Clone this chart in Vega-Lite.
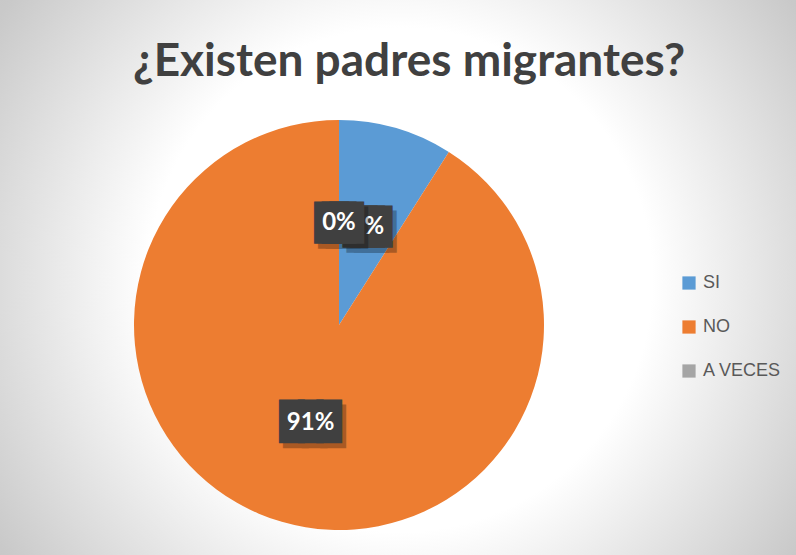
{
  "$schema": "https://vega.github.io/schema/vega-lite/v6.json",
  "autosize": {"type": "none"},
  "width": 678,
  "height": 460,
  "padding": {"left": 0, "top": 95, "right": 118, "bottom": 0},
  "background": "#ffffff",
  "config": {"view": {"stroke": null}},
  "title": {
    "text": "¿Existen padres migrantes?",
    "font": "Lato",
    "fontSize": 46,
    "fontWeight": "bold",
    "color": "#404040",
    "anchor": "middle",
    "frame": "group",
    "dx": 70,
    "dy": 368,
    "offset": 7
  },
  "data": {
    "values": [
      {"categoria": "SI", "valor": 0.09, "orden": 1},
      {"categoria": "NO", "valor": 0.91, "orden": 2},
      {"categoria": "A VECES", "valor": 0.0, "orden": 3}
    ]
  },
  "layer": [
    {
      "data": {"values": [{}]},
      "mark": {
        "type": "arc",
        "theta": 0,
        "theta2": 6.2832,
        "outerRadius": 600,
        "fill": {
          "gradient": "radial",
          "x1": 0.551, "y1": 0.4625, "r1": 0,
          "x2": 0.551, "y2": 0.4625, "r2": 0.5,
          "stops": [
            {"offset": 0, "color": "#ffffff"},
            {"offset": 0.42, "color": "#ffffff"},
            {"offset": 0.8, "color": "#c9c9c9"},
            {"offset": 1, "color": "#bdbdbd"}
          ]
        }
      },
      "encoding": {}
    },
    {
      "mark": {"type": "arc", "outerRadius": 205},
      "encoding": {
        "theta": {"field": "valor", "type": "quantitative", "stack": true},
        "order": {"field": "orden", "type": "quantitative"},
        "color": {
          "field": "categoria",
          "type": "nominal",
          "sort": null,
          "scale": {
            "domain": ["SI", "NO", "A VECES"],
            "range": ["#5b9bd5", "#ed7d31", "#a5a5a5"]
          },
          "legend": {
            "title": null,
            "orient": "none",
            "legendX": 680,
            "legendY": 179,
            "padding": 0,
            "symbolType": "square",
            "symbolSize": 175,
            "symbolStrokeWidth": 0,
            "labelFont": "Liberation Sans",
            "labelFontSize": 18,
            "labelColor": "#595959",
            "labelOffset": 5,
            "rowPadding": 26
          }
        }
      }
    },
    {
      "transform": [{"filter": "datum.categoria !== 'A VECES'"}],
      "mark": {"type": "text", "text": "███", "font": "DejaVu Sans Mono", "radius": 102, "align": "center", "baseline": "middle", "fill": "#000000", "stroke": "#000000", "opacity": 0.28, "dx": 4, "dy": 5},
      "encoding": {
        "theta": {"field": "valor", "type": "quantitative", "stack": true},
        "order": {"field": "orden", "type": "quantitative"},
        "size": {"condition": {"test": "datum.categoria === 'NO'", "value": 31}, "value": 12.5},
        "strokeWidth": {"condition": {"test": "datum.categoria === 'NO'", "value": 6.7}, "value": 27.5}
      }
    },
    {
      "transform": [{"filter": "datum.categoria !== 'A VECES'"}],
      "mark": {"type": "text", "text": "███", "font": "DejaVu Sans Mono", "radius": 102, "align": "center", "baseline": "middle", "fill": "#404040", "stroke": "#404040"},
      "encoding": {
        "theta": {"field": "valor", "type": "quantitative", "stack": true},
        "order": {"field": "orden", "type": "quantitative"},
        "size": {"condition": {"test": "datum.categoria === 'NO'", "value": 31}, "value": 12.5},
        "strokeWidth": {"condition": {"test": "datum.categoria === 'NO'", "value": 6.7}, "value": 27.5}
      }
    },
    {
      "transform": [{"filter": "datum.categoria !== 'A VECES'"}],
      "mark": {"type": "text", "radius": 102, "align": "center", "baseline": "middle", "font": "Lato", "fontSize": 24, "fontWeight": "bold", "fill": "#ffffff"},
      "encoding": {
        "theta": {"field": "valor", "type": "quantitative", "stack": true},
        "order": {"field": "orden", "type": "quantitative"},
        "text": {"field": "valor", "type": "quantitative", "format": ".0%"}
      }
    },
    {
      "transform": [{"filter": "datum.categoria === 'A VECES'"}],
      "mark": {"type": "text", "text": "███", "font": "DejaVu Sans Mono", "radius": 102, "align": "center", "baseline": "middle", "fill": "#000000", "stroke": "#000000", "opacity": 0.28, "dx": 4, "dy": 5, "size": 12.5, "strokeWidth": 27.5},
      "encoding": {
        "theta": {"field": "valor", "type": "quantitative", "stack": true},
        "order": {"field": "orden", "type": "quantitative"}
      }
    },
    {
      "transform": [{"filter": "datum.categoria === 'A VECES'"}],
      "mark": {"type": "text", "text": "███", "font": "DejaVu Sans Mono", "radius": 102, "align": "center", "baseline": "middle", "fill": "#404040", "stroke": "#404040", "size": 12.5, "strokeWidth": 27.5},
      "encoding": {
        "theta": {"field": "valor", "type": "quantitative", "stack": true},
        "order": {"field": "orden", "type": "quantitative"}
      }
    },
    {
      "transform": [{"filter": "datum.categoria === 'A VECES'"}],
      "mark": {"type": "text", "radius": 102, "align": "center", "baseline": "middle", "font": "Lato", "fontSize": 24, "fontWeight": "bold", "fill": "#ffffff"},
      "encoding": {
        "theta": {"field": "valor", "type": "quantitative", "stack": true},
        "order": {"field": "orden", "type": "quantitative"},
        "text": {"field": "valor", "type": "quantitative", "format": ".0%"}
      }
    }
  ]
}
